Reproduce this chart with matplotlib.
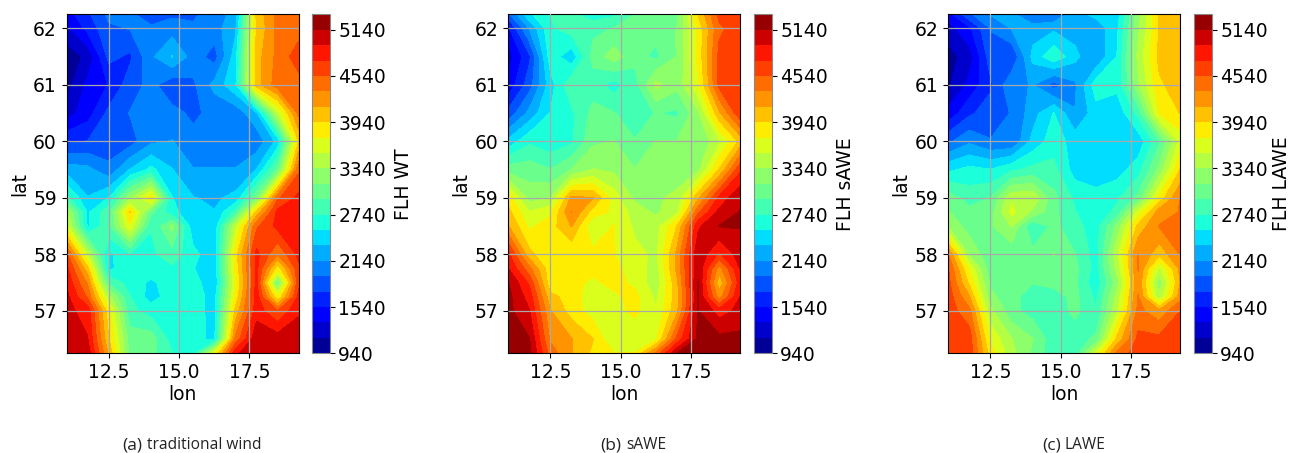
import matplotlib
matplotlib.use('Agg')
import matplotlib.pyplot as plt
import numpy as np

W, H = 1290, 453

lon = [11, 11.75, 12.5, 13.25, 14, 14.75, 15.5, 16.25, 17, 17.75, 18.5, 19.25]
lat = [62.25, 62, 61.5, 61, 60.5, 60, 59.5, 59, 58.75, 58.5, 58, 57.75, 57.5, 57.25, 57, 56.5, 56.25]

flh_wt = [
    [1450, 1700, 2000, 2000, 1750, 1900, 1900, 2050, 2200, 4000, 4400, 4450],
    [1300, 1600, 1900, 1950, 2000, 2050, 1980, 2050, 2300, 3950, 4400, 4450],
    [1000, 1200, 1800, 1700, 2100, 2350, 2050, 1850, 2450, 4050, 4400, 4650],
    [1050, 1400, 1550, 1850, 2000, 1800, 1900, 2200, 2500, 4050, 4450, 4450],
    [1250, 1450, 1800, 1950, 1950, 2000, 1900, 2000, 2000, 2300, 3500, 4400],
    [1700, 1750, 1800, 1850, 2100, 2150, 2000, 2000, 2000, 2000, 2400, 3950],
    [2250, 2200, 2000, 2350, 2600, 2350, 2150, 2150, 2150, 2350, 3000, 4500],
    [2800, 2350, 2550, 3300, 3850, 2550, 2350, 2300, 2400, 3100, 4500, 4800],
    [3400, 2500, 2900, 3950, 3000, 2600, 2400, 2350, 2800, 4000, 4800, 4800],
    [3600, 2500, 2900, 3700, 2750, 3200, 2400, 2400, 3500, 4500, 4800, 4800],
    [4600, 3500, 2500, 2700, 2700, 2850, 2600, 2400, 3850, 4800, 4350, 4800],
    [4800, 4000, 2500, 2650, 2650, 2700, 2550, 2400, 3800, 4800, 3800, 4700],
    [4900, 4300, 2900, 2650, 2500, 2650, 2650, 2350, 3700, 4800, 3000, 4700],
    [5000, 4500, 3400, 2750, 2450, 2650, 2650, 2450, 3800, 4850, 3750, 4800],
    [5000, 4850, 3800, 2800, 2650, 2650, 2650, 2450, 4000, 4850, 4550, 4900],
    [5100, 4950, 3950, 3050, 3050, 2650, 2600, 2500, 4400, 5100, 5050, 5100],
    [4950, 5050, 4100, 3050, 3000, 2750, 2650, 3700, 4900, 5100, 5100, 5100],
]

flh_sawe = [
    [1900, 2500, 2750, 2800, 2600, 2700, 2950, 3000, 3100, 3950, 4600, 4650],
    [1500, 2150, 2700, 2850, 2900, 2950, 2950, 3000, 3150, 3800, 4500, 4650],
    [1250, 1700, 2650, 2400, 3000, 3250, 3000, 2900, 3150, 3800, 4600, 4650],
    [1400, 1850, 2450, 2900, 2850, 2650, 2850, 3400, 3200, 3700, 4600, 4650],
    [1800, 2200, 2550, 2700, 3000, 2950, 2850, 2950, 2900, 3300, 4100, 4700],
    [2400, 2700, 2600, 2700, 3100, 3150, 2950, 3150, 3150, 3150, 3500, 4000],
    [3050, 3050, 2950, 3150, 3350, 3300, 3150, 3150, 3200, 3300, 3950, 4700],
    [3850, 3250, 3350, 4200, 4150, 3650, 3300, 3300, 3400, 4100, 4800, 5100],
    [4000, 3550, 3700, 4350, 3850, 3700, 3450, 3300, 3500, 4500, 5000, 5150],
    [4150, 3700, 3850, 4150, 3550, 3750, 3500, 3450, 3950, 4900, 5150, 5150],
    [4800, 4000, 3750, 3750, 3800, 3750, 3600, 3500, 4200, 5100, 4700, 5050],
    [4950, 4400, 3800, 3800, 3800, 3800, 3650, 3450, 4200, 5100, 4250, 4950],
    [5150, 4700, 3800, 3800, 3700, 3800, 3700, 3400, 4100, 5150, 4000, 4850],
    [5200, 4850, 4000, 3850, 3600, 3700, 3800, 3500, 4050, 5150, 4250, 4950],
    [5200, 4950, 4150, 3850, 3650, 3650, 3800, 3550, 4100, 5150, 4850, 5000],
    [5200, 5150, 4300, 4150, 3950, 3550, 3550, 3700, 4600, 5200, 5200, 5200],
    [5200, 5200, 4450, 4150, 3900, 3750, 3750, 4400, 5150, 5250, 5250, 5250],
]

flh_lawe = [
    [1450, 1900, 2150, 2200, 1900, 1950, 2250, 2400, 2450, 3250, 3950, 4000],
    [1250, 1500, 1950, 2150, 2250, 2300, 2250, 2200, 2500, 3300, 3950, 4000],
    [1050, 1250, 1850, 1750, 2400, 2700, 2400, 2150, 2550, 3400, 4000, 4050],
    [1100, 1400, 1700, 2100, 2150, 1850, 2100, 2650, 2600, 3300, 3900, 4050],
    [1400, 1700, 1850, 1950, 2250, 2550, 2150, 2450, 2400, 2800, 3750, 3950],
    [1900, 2100, 1950, 1950, 2400, 2650, 2450, 2350, 2350, 2400, 2900, 3600],
    [2500, 2600, 2550, 2700, 2800, 2800, 2450, 2350, 2450, 2650, 3200, 3950],
    [3050, 2850, 2950, 3500, 3500, 3000, 2700, 2650, 2700, 3000, 3800, 4350],
    [3150, 3000, 3050, 3600, 3300, 3000, 2750, 2600, 2800, 3600, 4250, 4350],
    [3300, 3050, 3100, 3350, 2750, 3000, 2800, 2650, 3200, 4000, 4350, 4350],
    [4350, 3300, 3000, 3000, 3000, 3150, 2950, 2650, 3500, 4350, 4000, 4350],
    [4550, 3700, 3000, 3000, 3000, 3050, 3000, 2650, 3400, 4350, 3500, 4200],
    [4600, 3900, 3100, 3050, 2950, 3000, 2980, 2600, 3250, 4300, 3200, 4150],
    [4650, 4150, 3200, 3000, 2850, 2850, 3000, 2700, 3400, 4350, 3400, 4250],
    [4650, 4400, 3400, 3000, 2850, 2800, 3000, 2750, 3500, 4400, 4200, 4540],
    [4650, 4650, 3700, 3350, 3150, 2800, 2800, 3000, 4000, 4600, 4600, 4650],
    [4650, 4650, 3850, 3400, 3100, 2800, 2800, 3600, 4400, 4650, 4650, 4650],
]

levels = np.arange(940, 5341, 200)
cbar_ticks = np.arange(940, 5141, 600)
lon_ticks = [12.5, 15.0, 17.5]
lat_ticks = [57, 58, 59, 60, 61, 62]

panels = [
    (flh_wt, 'FLH WT', 66.7, 312.3, 6, '(a)', 'traditional wind', 122, 147),
    (flh_sawe, 'FLH sAWE', 508.3, 754.3, 6, '(b)', 'sAWE', 600, 626),
    (flh_lawe, 'FLH LAWE', 948.3, 1194.3, 3, '(c)', 'LAWE', 1042, 1064),
]

fig = plt.figure(figsize=(W / 100, H / 100), dpi=100)

for values, cbar_label, x0, cx0, pad, tag, caption, tag_x, cap_x in panels:
    ax = fig.add_axes([x0 / W, 1 - 353.3 / H, 232 / W, 339 / H])
    cax = fig.add_axes([cx0 / W, 1 - 353.3 / H, 17.5 / W, 339 / H])
    cs = ax.contourf(lon, lat, values, levels=levels, cmap='jet')
    ax.grid(color='darkgrey', linewidth=0.9)
    ax.set_axisbelow(False)
    ax.set_xticks(lon_ticks)
    ax.set_yticks(lat_ticks)
    ax.tick_params(labelsize=13.5)
    ax.set_xlabel('lon', fontsize=13.5, labelpad=2)
    ax.set_ylabel('lat', fontsize=13.5, labelpad=3)

    cbar = fig.colorbar(cs, cax=cax, ticks=cbar_ticks)
    cbar.ax.tick_params(labelsize=13.5, pad=2.5)
    cbar.set_label(cbar_label, fontsize=13.5, labelpad=pad)
    cbar.outline.set_edgecolor('#888888')

    fig.text(tag_x / W, 1 - 445 / H, tag, fontsize=12.5, family='Open Sans', va='center', color='#222222')
    fig.text(cap_x / W, 1 - 445 / H, caption, fontsize=11.2, family='Open Sans', va='center', color='#222222')

fig.savefig('out.png', dpi=100)
